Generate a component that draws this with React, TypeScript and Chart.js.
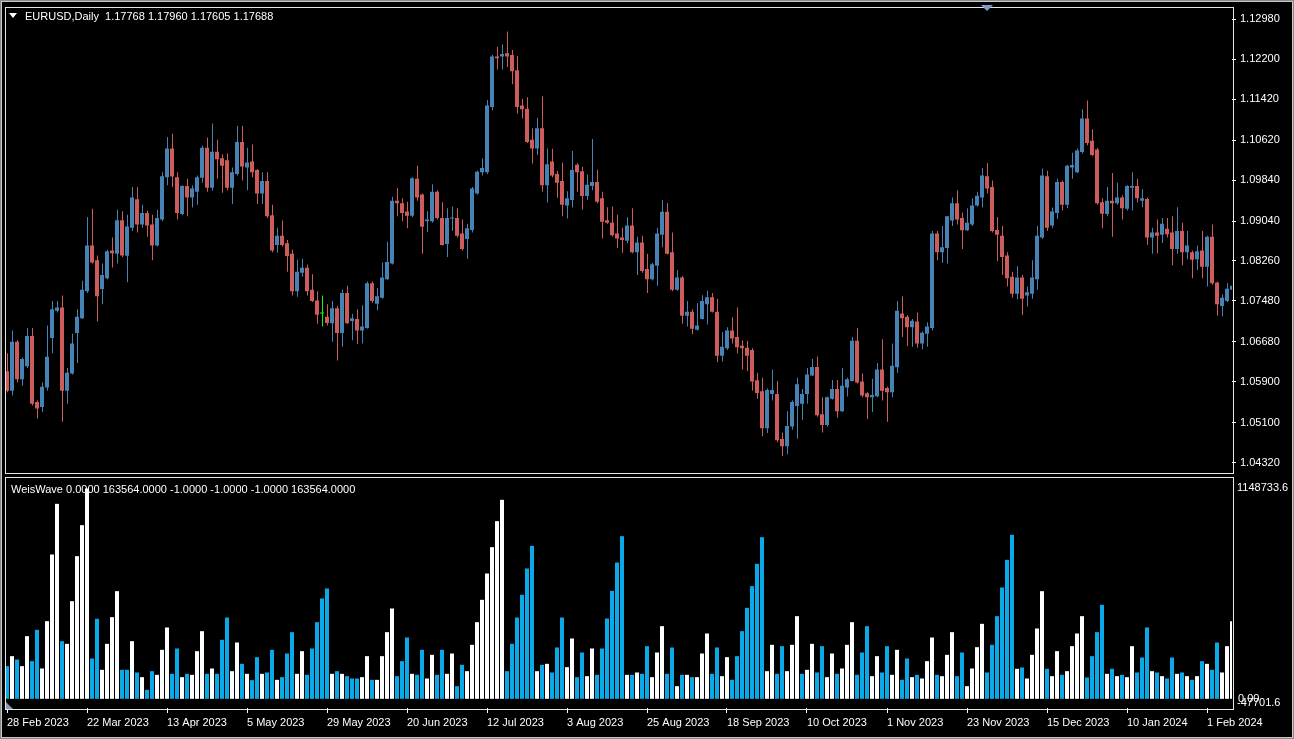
import React, { useEffect, useRef } from 'react';
import { Chart, registerables } from 'chart.js';

Chart.register(...registerables);

const FONT = "'Liberation Sans', Arial, sans-serif";

const symbolTitle = 'EURUSD,Daily';
const lastQuote = ['1.17768', '1.17960', '1.17605', '1.17688'];
const indicatorTitle = 'WeisWave';
const indicatorValues = ['0.0000', '163564.0000', '-1.0000', '-1.0000', '-1.0000', '163564.0000'];

const dateLabels = [
  '28 Feb 2023', '22 Mar 2023', '13 Apr 2023', '5 May 2023', '29 May 2023', '20 Jun 2023',
  '12 Jul 2023', '3 Aug 2023', '25 Aug 2023', '18 Sep 2023', '10 Oct 2023', '1 Nov 2023',
  '23 Nov 2023', '15 Dec 2023', '10 Jan 2024', '1 Feb 2024',
];
const dateTickStep = 16;

const priceTicks = [1.1298, 1.122, 1.1142, 1.1062, 1.0984, 1.0904, 1.0826, 1.0748, 1.0668, 1.059, 1.051, 1.0432];
const priceMin = 1.04285;
const priceMax = 1.13152;

const waveMax = 1148733.6;
const waveMin = -47701.6;

const openPrices = [
  1.06107, 1.05725, 1.0668, 1.05948, 1.06202, 1.06795, 1.05502, 1.05407, 1.05788, 1.06757,
  1.07285, 1.07349, 1.05725, 1.06063, 1.06852, 1.0714, 1.07668, 1.0856, 1.08273, 1.07712,
  1.07923, 1.08464, 1.084, 1.09056, 1.08362, 1.0891, 1.09464, 1.08974, 1.09196, 1.08974,
  1.0856, 1.09069, 1.09897, 1.10458, 1.09897, 1.09177, 1.09725, 1.09502, 1.0961, 1.09885,
  1.10471, 1.09693, 1.10394, 1.10267, 1.10229, 1.09693, 1.09961, 1.10585, 1.10088, 1.10203,
  1.10037, 1.09578, 1.09821, 1.09152, 1.08572, 1.08751, 1.08604, 1.084, 1.07668, 1.08031,
  1.08126, 1.077, 1.07489, 1.07234, 1.07171, 1.07043, 1.07336, 1.06852, 1.07636, 1.07088,
  1.07127, 1.06903, 1.06948, 1.07827, 1.07425, 1.0754, 1.07903, 1.08209, 1.09438, 1.09387,
  1.09228, 1.09145, 1.09865, 1.0956, 1.09037, 1.09037, 1.0961, 1.09101, 1.08591, 1.09088,
  1.09101, 1.08795, 1.08687, 1.08865, 1.09578, 1.09993, 1.09993, 1.11267, 1.12254, 1.12254,
  1.12318, 1.12286, 1.11986, 1.11299, 1.11235, 1.1063, 1.10458, 1.10852, 1.09738, 1.10203,
  1.09961, 1.09821, 1.09343, 1.09451, 1.10139, 1.10012, 1.09527, 1.09725, 1.09802, 1.09483,
  1.09056, 1.09005, 1.08795, 1.08719, 1.08655, 1.08954, 1.08432, 1.08623, 1.08101, 1.07903,
  1.08165, 1.0877, 1.09222, 1.08432, 1.077, 1.07935, 1.0719, 1.07266, 1.06916, 1.07127,
  1.07413, 1.07553, 1.07266, 1.06407, 1.06553, 1.06903, 1.06776, 1.06604, 1.06566, 1.06521,
  1.05929, 1.05712, 1.04992, 1.05661, 1.05661, 1.04782, 1.04642, 1.05024, 1.05426, 1.0547,
  1.05661, 1.06024, 1.0619, 1.05266, 1.05056, 1.05566, 1.05757, 1.05324, 1.05788, 1.05916,
  1.06699, 1.05903, 1.05674, 1.05597, 1.05616, 1.06139, 1.05776, 1.05693, 1.06183, 1.07234,
  1.07171, 1.06967, 1.07075, 1.06648, 1.06839, 1.06948, 1.08795, 1.08432, 1.08515, 1.0905,
  1.09387, 1.09101, 1.08859, 1.08974, 1.09343, 1.09502, 1.09916, 1.09706, 1.08865, 1.08751,
  1.08368, 1.07954, 1.07617, 1.07935, 1.07585, 1.07617, 1.07903, 1.08719, 1.09916, 1.08954,
  1.09196, 1.09802, 1.09356, 1.10088, 1.09993, 1.10388, 1.11044, 1.1061, 1.10439, 1.09406,
  1.09177, 1.09438, 1.09387, 1.09502, 1.09279, 1.09693, 1.09725, 1.09438, 1.0947, 1.08719,
  1.08814, 1.0877, 1.08891, 1.08814, 1.08496, 1.08846, 1.08432, 1.08432, 1.08292, 1.08464,
  1.08145, 1.08731, 1.0784, 1.07381, 1.07476, 1.077,
];

const highPrices = [
  1.06458, 1.06903, 1.06712, 1.06375, 1.06948, 1.06948, 1.05534, 1.05884, 1.06999, 1.07476,
  1.07476, 1.07585, 1.06171, 1.06839, 1.07317, 1.07871, 1.0912, 1.0928, 1.08368, 1.08209,
  1.08477, 1.08719, 1.09261, 1.09229, 1.09165, 1.09706, 1.09706, 1.09356, 1.09247, 1.09165,
  1.09261, 1.09993, 1.10681, 1.10744, 1.09993, 1.09738, 1.09865, 1.09738, 1.09929, 1.10515,
  1.10674, 1.10948, 1.1063, 1.10343, 1.10362, 1.10088, 1.10904, 1.10904, 1.10471, 1.10534,
  1.10056, 1.09993, 1.09993, 1.09356, 1.0891, 1.0905, 1.08668, 1.08483, 1.08286, 1.08305,
  1.0819, 1.07999, 1.07668, 1.07585, 1.07413, 1.07476, 1.07381, 1.077, 1.07776, 1.07222,
  1.07317, 1.07394, 1.07859, 1.07859, 1.07731, 1.08228, 1.08636, 1.09515, 1.09687, 1.09483,
  1.09419, 1.09897, 1.1012, 1.09578, 1.09229, 1.09757, 1.09642, 1.09406, 1.09292, 1.09324,
  1.09292, 1.09069, 1.08986, 1.09706, 1.10024, 1.1026, 1.11407, 1.12286, 1.12445, 1.1249,
  1.12744, 1.12381, 1.12267, 1.11426, 1.11458, 1.10852, 1.11056, 1.11477, 1.10458, 1.10451,
  1.10024, 1.10184, 1.09623, 1.10407, 1.10171, 1.10101, 1.09948, 1.10642, 1.10043, 1.0961,
  1.09311, 1.09324, 1.09165, 1.0891, 1.09114, 1.09292, 1.08731, 1.08751, 1.084, 1.08222,
  1.0891, 1.09451, 1.09387, 1.08814, 1.08082, 1.07967, 1.07476, 1.07317, 1.07432, 1.07591,
  1.0768, 1.07636, 1.07521, 1.06871, 1.06967, 1.07158, 1.07349, 1.06712, 1.06699, 1.06553,
  1.06075, 1.0598, 1.05769, 1.06139, 1.05916, 1.0491, 1.05324, 1.05534, 1.0598, 1.05757,
  1.06171, 1.06343, 1.06394, 1.05597, 1.0561, 1.05935, 1.05935, 1.06171, 1.0598, 1.06776,
  1.06948, 1.06062, 1.05693, 1.0596, 1.06266, 1.06731, 1.05801, 1.06648, 1.07476, 1.07572,
  1.07203, 1.07127, 1.07254, 1.06884, 1.07062, 1.08846, 1.08846, 1.08942, 1.0914, 1.09502,
  1.09642, 1.09209, 1.09292, 1.09483, 1.0961, 1.10075, 1.10171, 1.09833, 1.0912, 1.08942,
  1.08432, 1.0805, 1.08158, 1.07986, 1.07763, 1.08273, 1.08942, 1.10069, 1.10024, 1.09305,
  1.09865, 1.09833, 1.10133, 1.10375, 1.10458, 1.11222, 1.11394, 1.10833, 1.10471, 1.09483,
  1.09706, 1.0998, 1.09789, 1.09546, 1.09738, 1.09993, 1.09865, 1.09661, 1.09496, 1.0891,
  1.09069, 1.09101, 1.09101, 1.09133, 1.09311, 1.09005, 1.08846, 1.08464, 1.0856, 1.08846,
  1.08751, 1.08974, 1.07859, 1.07604, 1.07827, 1.07859,
];

const lowPrices = [
  1.05693, 1.05629, 1.05884, 1.05821, 1.06171, 1.05438, 1.05184, 1.05311, 1.05725, 1.06458,
  1.07254, 1.0512, 1.0547, 1.06043, 1.06266, 1.07127, 1.07636, 1.08209, 1.07075, 1.07413,
  1.07903, 1.08133, 1.08209, 1.08336, 1.07846, 1.08846, 1.08814, 1.0891, 1.08731, 1.08273,
  1.08541, 1.09037, 1.09738, 1.09706, 1.09069, 1.09152, 1.09133, 1.09305, 1.09356, 1.09789,
  1.0961, 1.0963, 1.09865, 1.09591, 1.09642, 1.09375, 1.09929, 1.09833, 1.09642, 1.09897,
  1.09375, 1.09375, 1.09101, 1.08432, 1.08419, 1.08541, 1.0805, 1.07585, 1.07559, 1.07954,
  1.07585, 1.07457, 1.07031, 1.0698, 1.06999, 1.0668, 1.06317, 1.06585, 1.07031, 1.06712,
  1.06636, 1.06648, 1.06935, 1.07445, 1.07298, 1.07521, 1.07891, 1.0819, 1.09133, 1.09037,
  1.08897, 1.0912, 1.09438, 1.084, 1.08827, 1.09005, 1.09069, 1.0856, 1.08336, 1.08846,
  1.08719, 1.08464, 1.08305, 1.08814, 1.09559, 1.09929, 1.09961, 1.11203, 1.11999, 1.11999,
  1.1205, 1.11713, 1.11139, 1.11044, 1.10566, 1.10165, 1.1033, 1.0961, 1.094, 1.09897,
  1.09496, 1.09133, 1.09088, 1.09305, 1.0961, 1.0926, 1.09451, 1.09642, 1.09387, 1.087,
  1.08986, 1.08738, 1.08515, 1.08419, 1.08604, 1.08413, 1.07986, 1.08031, 1.07636, 1.07878,
  1.07776, 1.08528, 1.08387, 1.07668, 1.0768, 1.07031, 1.0698, 1.06827, 1.06903, 1.07114,
  1.07018, 1.07254, 1.06279, 1.06298, 1.06521, 1.06648, 1.06458, 1.06139, 1.06107, 1.05725,
  1.05566, 1.04833, 1.04897, 1.05534, 1.04718, 1.04451, 1.04483, 1.04961, 1.04788, 1.05152,
  1.0547, 1.06011, 1.05215, 1.0491, 1.05024, 1.05553, 1.05196, 1.05311, 1.0561, 1.05903,
  1.05865, 1.05597, 1.05171, 1.05311, 1.05597, 1.05534, 1.0512, 1.05597, 1.06075, 1.06776,
  1.06598, 1.06585, 1.06566, 1.06534, 1.06585, 1.06903, 1.08273, 1.08222, 1.08209, 1.08942,
  1.08974, 1.08496, 1.08846, 1.08942, 1.09324, 1.09305, 1.09578, 1.08814, 1.08254, 1.07986,
  1.07763, 1.0754, 1.07508, 1.07203, 1.07368, 1.07521, 1.077, 1.08687, 1.08846, 1.0891,
  1.09082, 1.09247, 1.09292, 1.09865, 1.0998, 1.10362, 1.10521, 1.10311, 1.09356, 1.08897,
  1.09133, 1.08731, 1.09356, 1.09069, 1.09247, 1.09247, 1.09406, 1.09311, 1.08579, 1.084,
  1.08413, 1.0861, 1.08719, 1.08177, 1.084, 1.08177, 1.08292, 1.07923, 1.08082, 1.07923,
  1.07763, 1.07795, 1.0719, 1.07177, 1.07457, 1.07381,
];

const closePrices = [
  1.05725, 1.0668, 1.05948, 1.06343, 1.06795, 1.0547, 1.05375, 1.05801, 1.06388, 1.07317,
  1.07349, 1.05725, 1.06075, 1.06648, 1.07171, 1.077, 1.0856, 1.08228, 1.07572, 1.07986,
  1.08451, 1.08413, 1.09056, 1.08368, 1.08935, 1.09502, 1.08974, 1.09196, 1.08954, 1.0856,
  1.09101, 1.09916, 1.10458, 1.0991, 1.09196, 1.09725, 1.09502, 1.09674, 1.09897, 1.10471,
  1.09693, 1.10394, 1.10248, 1.1012, 1.09693, 1.09993, 1.10585, 1.10107, 1.10184, 1.09993,
  1.09578, 1.09821, 1.09133, 1.08464, 1.08751, 1.08572, 1.08356, 1.07668, 1.0805, 1.08126,
  1.07668, 1.07476, 1.07209, 1.07234, 1.0705, 1.07336, 1.06852, 1.07636, 1.07043, 1.0714,
  1.06903, 1.0698, 1.07827, 1.07476, 1.07572, 1.07935, 1.08241, 1.09438, 1.09387, 1.09196,
  1.09145, 1.09878, 1.09502, 1.08929, 1.09069, 1.0961, 1.09101, 1.08572, 1.09101, 1.09101,
  1.08751, 1.08496, 1.08897, 1.09674, 1.10005, 1.10075, 1.11299, 1.12254, 1.12222, 1.12305,
  1.12254, 1.11967, 1.11267, 1.11222, 1.10585, 1.10458, 1.10852, 1.09738, 1.10152, 1.09929,
  1.09789, 1.09356, 1.09483, 1.10037, 1.09993, 1.09527, 1.09751, 1.09802, 1.09419, 1.09024,
  1.09005, 1.08763, 1.087, 1.08668, 1.08954, 1.08432, 1.08623, 1.08063, 1.07903, 1.08196,
  1.08795, 1.09222, 1.084, 1.077, 1.07935, 1.0719, 1.07266, 1.06935, 1.06999, 1.07476,
  1.07553, 1.07266, 1.06407, 1.06585, 1.06903, 1.06744, 1.06572, 1.06553, 1.06407, 1.05903,
  1.0568, 1.04992, 1.05737, 1.05737, 1.04757, 1.04642, 1.05037, 1.05502, 1.05852, 1.05661,
  1.06043, 1.0619, 1.05247, 1.05056, 1.05597, 1.05757, 1.05324, 1.05821, 1.05948, 1.06699,
  1.05884, 1.05629, 1.05597, 1.05642, 1.06139, 1.05725, 1.05693, 1.06215, 1.07285, 1.0714,
  1.06967, 1.07094, 1.06648, 1.06858, 1.0698, 1.08795, 1.08432, 1.08528, 1.09133, 1.09387,
  1.09069, 1.08859, 1.09005, 1.09343, 1.09534, 1.09929, 1.09674, 1.08846, 1.0877, 1.08336,
  1.07923, 1.07617, 1.07935, 1.07521, 1.07649, 1.07935, 1.08751, 1.09929, 1.0891, 1.09228,
  1.09802, 1.09356, 1.1012, 1.10133, 1.1042, 1.11044, 1.10566, 1.1033, 1.09387, 1.09184,
  1.09438, 1.09387, 1.09502, 1.09292, 1.09725, 1.09725, 1.09483, 1.09483, 1.08719, 1.08814,
  1.08751, 1.08986, 1.08783, 1.08496, 1.08846, 1.08432, 1.0856, 1.08286, 1.08451, 1.08145,
  1.08731, 1.07827, 1.07413, 1.0754, 1.07718, 1.07776,
];

const waveVolume = [
  169932, 221952, 204612, 169932, 325992, 195942, 358938, 157794, 404022, 750822,
  1014390, 299982, 286110, 508062, 742152, 903414, 1094154, 209814, 416160, 150858,
  286110, 424830, 560082, 150858, 150858, 299982, 136986, 112710, 46818, 143922,
  124848, 254898, 371076, 130050, 261834, 112710, 130050, 124848, 247962, 352002,
  130050, 157794, 130050, 306918, 423096, 143922, 293046, 182070, 130050, 97104,
  216750, 130050, 136986, 254898, 98838, 112710, 235824, 346800, 130050, 247962,
  124848, 261834, 398820, 521934, 573954, 130050, 143922, 130050, 117912, 105774,
  105774, 112710, 221952, 98838, 98838, 221952, 346800, 469914, 117912, 195942,
  319056, 130050, 124848, 254898, 105774, 228888, 124848, 254898, 130050, 235824,
  65892, 176868, 143922, 280908, 398820, 514998, 651984, 788970, 924222, 1035198,
  143922, 286110, 423096, 541008, 677994, 795906, 143922, 176868, 182070, 136986,
  267036, 423096, 164730, 313854, 112710, 241026, 117912, 261834, 124848, 261834,
  417894, 561816, 709206, 846192, 124848, 124848, 136986, 130050, 273972, 112710,
  241026, 378012, 130050, 267036, 65892, 124848, 124848, 112710, 112710, 235824,
  339864, 130050, 267036, 117912, 216750, 98838, 221952, 352002, 473382, 586092,
  702270, 840990, 143922, 280908, 130050, 273972, 143922, 280908, 430032, 130050,
  150858, 286110, 136986, 273972, 112710, 235824, 130050, 157794, 280908, 398820,
  124848, 241026, 378012, 117912, 221952, 136986, 273972, 124848, 254898, 98838,
  209814, 112710, 124848, 105774, 195942, 319056, 124848, 117912, 228888, 346800,
  117912, 241026, 65892, 157794, 268770, 390150, 136986, 280908, 430032, 579156,
  723078, 853128, 156060, 162996, 105774, 228888, 365874, 560082, 156060, 117912,
  247962, 124848, 143922, 273972, 339864, 430032, 110976, 221952, 346800, 488988,
  130050, 156060, 117912, 124848, 112710, 273972, 136986, 215016, 371076, 143922,
  136986, 117912, 105774, 215016, 130050, 136986, 117912, 98838, 117912, 195942,
  182070, 150858, 293046, 136986, 273972, 404022,
];

// W = white wave, B = blue wave
const waveKind = [
  'B', 'W', 'B', 'W', 'W', 'B', 'B', 'W', 'W', 'W',
  'W', 'B', 'W', 'W', 'W', 'W', 'W', 'B', 'B', 'W',
  'W', 'W', 'W', 'B', 'B', 'W', 'B', 'W', 'B', 'B',
  'W', 'W', 'W', 'B', 'B', 'W', 'B', 'W', 'W', 'W',
  'B', 'W', 'B', 'B', 'B', 'W', 'W', 'B', 'W', 'B',
  'B', 'W', 'B', 'B', 'W', 'B', 'B', 'B', 'W', 'W',
  'B', 'B', 'B', 'B', 'B', 'W', 'B', 'W', 'B', 'B',
  'B', 'W', 'W', 'B', 'W', 'W', 'W', 'W', 'B', 'B',
  'B', 'W', 'B', 'B', 'W', 'W', 'B', 'B', 'W', 'W',
  'B', 'B', 'W', 'W', 'W', 'W', 'W', 'W', 'W', 'W',
  'B', 'B', 'B', 'B', 'B', 'B', 'W', 'B', 'W', 'B',
  'B', 'B', 'W', 'W', 'B', 'B', 'W', 'W', 'B', 'B',
  'B', 'B', 'B', 'B', 'W', 'B', 'W', 'B', 'B', 'W',
  'W', 'W', 'B', 'B', 'W', 'B', 'W', 'B', 'W', 'W',
  'W', 'B', 'B', 'W', 'W', 'B', 'B', 'B', 'B', 'B',
  'B', 'B', 'W', 'W', 'B', 'B', 'W', 'W', 'W', 'B',
  'W', 'W', 'B', 'B', 'W', 'W', 'B', 'W', 'W', 'W',
  'B', 'B', 'B', 'W', 'W', 'B', 'B', 'W', 'W', 'B',
  'B', 'W', 'B', 'W', 'W', 'W', 'B', 'W', 'W', 'W',
  'B', 'B', 'W', 'W', 'W', 'W', 'B', 'B', 'B', 'B',
  'B', 'B', 'W', 'B', 'W', 'W', 'W', 'W', 'B', 'W',
  'W', 'B', 'W', 'W', 'W', 'W', 'B', 'B', 'B', 'B',
  'W', 'B', 'W', 'B', 'W', 'W', 'B', 'B', 'B', 'W',
  'B', 'W', 'B', 'B', 'W', 'B', 'W', 'B', 'W', 'B',
  'W', 'B', 'B', 'W', 'W', 'W',
];

const BULL = '#4682B4';
const BEAR = '#CD5C5C';
const DOJI = '#00FF00';
const WAVE_BLUE = '#0AAAE8';
const WAVE_WHITE = '#FFFFFF';
const TEXT = '#FFFFFF';
const FRAME = '#E6E6E6';

export default function App() {
  const topRef = useRef<HTMLCanvasElement | null>(null);
  const botRef = useRef<HTMLCanvasElement | null>(null);

  useEffect(() => {
    const idx = openPrices.map((_, i) => i);
    const candleColor = idx.map((i) =>
      closePrices[i] > openPrices[i] ? BULL : closePrices[i] < openPrices[i] ? BEAR : DOJI
    );
    const waveColor = waveKind.map((k) => (k === 'B' ? WAVE_BLUE : WAVE_WHITE));

    const top = new Chart(topRef.current as HTMLCanvasElement, {
      type: 'bar',
      data: {
        datasets: [
          {
            label: 'wick',
            data: idx.map((i) => ({ x: i, y: [lowPrices[i], highPrices[i]] })) as any,
            xAxisID: 'xw',
            backgroundColor: candleColor,
            barThickness: 1,
            grouped: false,
            inflateAmount: 0,
            borderWidth: 0,
          } as any,
          {
            label: 'body',
            data: idx.map((i) => ({ x: i, y: [openPrices[i], closePrices[i]] })) as any,
            xAxisID: 'xb',
            backgroundColor: candleColor,
            barThickness: 4,
            minBarLength: 1,
            grouped: false,
            inflateAmount: 0,
            borderWidth: 0,
          } as any,
        ],
      },
      options: {
        responsive: false,
        animation: false,
        devicePixelRatio: 1,
        events: [],
        layout: { padding: { left: 6, top: 8, bottom: 3, right: 0 } },
        plugins: { legend: { display: false }, tooltip: { enabled: false }, title: { display: false } },
        scales: {
          xw: { type: 'linear', min: -0.3, max: 244.9, offset: false, display: false },
          xb: { type: 'linear', min: -0.2, max: 245.0, offset: false, display: false },
          y: {
            type: 'linear',
            position: 'right',
            min: priceMin,
            max: priceMax,
            afterBuildTicks: (s: any) => {
              s.ticks = priceTicks.map((v) => ({ value: v }));
            },
            afterFit: (s: any) => {
              s.width = 62;
            },
            ticks: {
              color: TEXT,
              font: { family: FONT, size: 11 },
              padding: 4,
              callback: (v: any) => Number(v).toFixed(5),
            },
            grid: { display: true, drawOnChartArea: false, drawTicks: true, tickLength: 4, color: TEXT },
            border: { display: false },
          },
        },
      } as any,
    });

    const bot = new Chart(botRef.current as HTMLCanvasElement, {
      type: 'bar',
      data: {
        datasets: [
          {
            label: 'WeisWave',
            data: idx.map((i) => ({ x: i, y: waveVolume[i] })) as any,
            backgroundColor: waveColor,
            barThickness: 4,
            grouped: false,
            inflateAmount: 0,
            borderWidth: 0,
          } as any,
        ],
      },
      options: {
        responsive: false,
        animation: false,
        devicePixelRatio: 1,
        events: [],
        layout: { padding: { left: 6, top: 3, bottom: 0, right: 62 } },
        plugins: { legend: { display: false }, tooltip: { enabled: false }, title: { display: false } },
        scales: {
          x: {
            type: 'linear',
            position: 'bottom',
            min: -0.2,
            max: 245.0,
            offset: false,
            afterBuildTicks: (s: any) => {
              s.ticks = dateLabels.map((_, k) => ({ value: k * dateTickStep }));
            },
            afterFit: (s: any) => {
              s.height = 31;
            },
            ticks: {
              color: TEXT,
              font: { family: FONT, size: 11 },
              align: 'start',
              autoSkip: false,
              maxRotation: 0,
              minRotation: 0,
              padding: 3,
              callback: (_v: any, k: number) => dateLabels[k],
            },
            grid: { display: true, offset: false, drawOnChartArea: false, drawTicks: true, tickLength: 5, color: TEXT },
            border: { display: false },
          },
          y: { type: 'linear', display: false, min: waveMin, max: waveMax },
        },
      } as any,
    });

    return () => {
      top.destroy();
      bot.destroy();
    };
  }, []);

  const textStyle = (left: number, top: number): React.CSSProperties => ({
    position: 'absolute',
    left,
    top,
    color: TEXT,
    fontFamily: FONT,
    fontSize: 11,
    lineHeight: '13px',
    whiteSpace: 'pre',
    pointerEvents: 'none',
  });

  return (
    <div
      style={{
        position: 'absolute',
        left: 0,
        top: 0,
        width: 1294,
        height: 739,
        background: '#000',
        overflow: 'hidden',
      }}
    >
      <canvas ref={topRef} width={1294} height={475} style={{ position: 'absolute', left: 0, top: 0 }} />
      <canvas ref={botRef} width={1294} height={264} style={{ position: 'absolute', left: 0, top: 475 }} />

      {/* pane frames */}
      <div style={{ position: 'absolute', left: 5, top: 7, width: 1229, height: 467, boxSizing: 'border-box', border: `1px solid ${FRAME}`, pointerEvents: 'none' }} />
      <div style={{ position: 'absolute', left: 5, top: 477, width: 1229, height: 233, boxSizing: 'border-box', border: `1px solid ${FRAME}`, pointerEvents: 'none' }} />

      {/* header of main pane */}
      <div style={{ position: 'absolute', left: 9, top: 13, width: 0, height: 0, borderLeft: '4px solid transparent', borderRight: '4px solid transparent', borderTop: `5px solid ${TEXT}` }} />
      <div style={textStyle(25, 10)}>{`${symbolTitle}  ${lastQuote.join(' ')}`}</div>

      {/* header of indicator pane */}
      <div style={textStyle(11, 483)}>{`${indicatorTitle} ${indicatorValues.join(' ')}`}</div>

      {/* indicator scale labels */}
      <div style={textStyle(1237, 481)}>{waveMax.toFixed(1)}</div>
      <div style={textStyle(1237, 696)}>{waveMin.toFixed(1)}</div>
      <div style={textStyle(1238, 692)}>{(0).toFixed(2)}</div>

      {/* chart shift markers */}
      <div style={{ position: 'absolute', left: 981, top: 5, width: 0, height: 0, borderLeft: '6px solid transparent', borderRight: '6px solid transparent', borderTop: '6px solid #7F9CC6' }} />
      <div style={{ position: 'absolute', left: 6, top: 702, width: 0, height: 0, borderBottom: '7px solid #8C9AAA', borderRight: '7px solid transparent' }} />

      {/* window border */}
      <div style={{ position: 'absolute', left: 0, top: 0, width: 1294, height: 739, boxSizing: 'border-box', border: '1px solid #8A8A8A', pointerEvents: 'none' }} />
      <div style={{ position: 'absolute', left: 1, top: 1, width: 1292, height: 737, boxSizing: 'border-box', border: '1px solid #C8C8C8', pointerEvents: 'none' }} />
    </div>
  );
}
